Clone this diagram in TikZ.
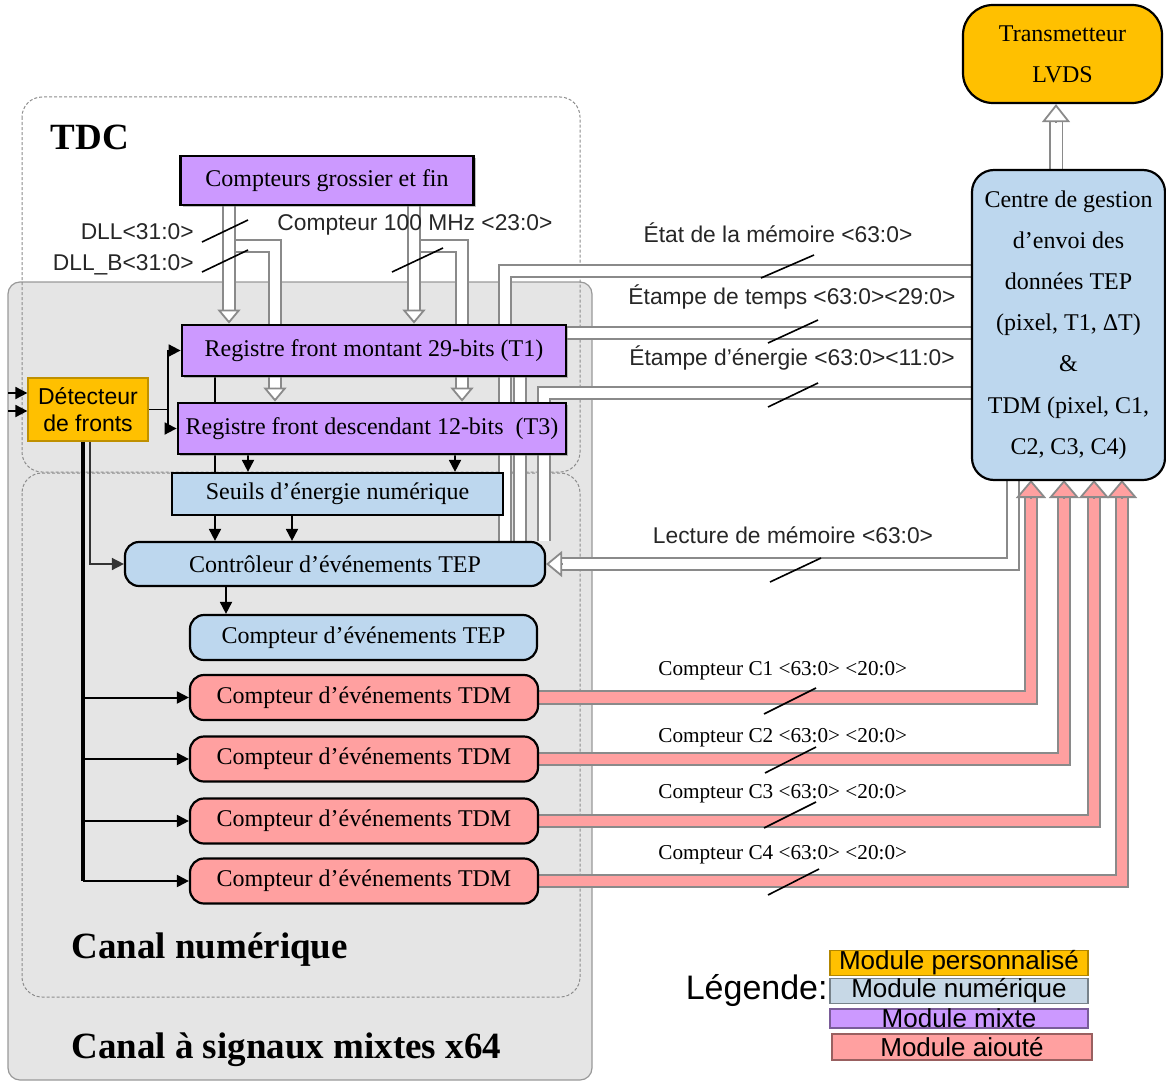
\documentclass[tikz,border=0pt]{standalone}
\usepackage{fontspec}
\setmainfont{Liberation Serif}
\setsansfont{Liberation Sans}
\usepackage{xcolor}
\usetikzlibrary{arrows.meta, positioning, shadows}

\definecolor{violetmod}{HTML}{CC99FF}
\definecolor{bleumod}{HTML}{BDD7EE}
\definecolor{rosemod}{HTML}{FFA0A0}
\definecolor{orangemod}{HTML}{FFC000}
\definecolor{grismod}{HTML}{E5E5E5}
\definecolor{busgris}{HTML}{8A8A8A}
\definecolor{legbleu}{HTML}{C7D8E6}

\pgfdeclarelayer{fond}
\pgfdeclarelayer{liens}
\pgfsetlayers{fond,liens,main}

\begin{document}
\begin{tikzpicture}[x=0.5pt, y=-0.5pt, >={Triangle[length=6pt,width=6pt]}]
    \tikzstyle{boite}=[rectangle, draw=black, line width=1.1pt, inner sep=0pt, font=\fontsize{12}{14}\selectfont]
    \tikzstyle{mixte}=[boite, fill=violetmod, line width=1.4pt, drop shadow={shadow xshift=1.2pt, shadow yshift=-1.2pt, opacity=.5}]
    \tikzstyle{numerique}=[boite, fill=bleumod]
    \tikzstyle{numrond}=[numerique, rounded corners=7pt]
    \tikzstyle{ajoute}=[boite, fill=rosemod, rounded corners=7pt, minimum width=174pt, minimum height=22.5pt]
    \tikzstyle{perso}=[rectangle, fill=orangemod, draw=orangemod!75!black, line width=0.6pt, inner sep=0pt, align=center]
    \tikzstyle{bus}=[draw=busgris, line width=0.9pt, double=white, double distance=4.8pt]
    \tikzstyle{bustete}=[draw=busgris, line width=0.9pt, -{Triangle[width=11.5pt,length=7pt,fill=white]}]
    \tikzstyle{busrose}=[draw=busgris, line width=0.9pt, double=rosemod, double distance=5.4pt]
    \tikzstyle{busrosetete}=[draw=busgris, line width=0.9pt, -{Triangle[width=15pt,length=9pt,fill=rosemod]}]
    \tikzstyle{etiq}=[font=\sffamily\fontsize{11.4}{13}\selectfont, text=black!85, inner sep=0pt]
    \tikzstyle{etiqc}=[font=\fontsize{10.6}{12}\selectfont, inner sep=0pt, anchor=west]
    \tikzstyle{barre}=[line width=0.8pt]
    \tikzstyle{titre}=[font=\bfseries\fontsize{18.5}{22}\selectfont, inner sep=0pt]
    \tikzstyle{signal}=[->, line width=0.9pt]
    \tikzstyle{legende}=[rectangle, inner sep=0pt, line width=0.6pt, font=\sffamily\fontsize{13}{15}\selectfont]

    \useasboundingbox (0,0) rectangle (1166,1081);

    % blocs du canal
    \node[mixte, minimum width=146.5pt, minimum height=24.5pt] (cgf) at (327,180.5) {Compteurs grossier et fin};
    \node[mixte, minimum width=192pt, minimum height=25.5pt] (t1) at (374,350.5) {Registre front montant 29-bits (T1)};
    \node[mixte, minimum width=194pt, minimum height=25.5pt] (t3) at (372,428.5) {Registre front descendant 12-bits\ \ (T3)};
    \node[perso, minimum width=60pt, minimum height=31.5pt, font=\sffamily\fontsize{11.5}{13.5}\selectfont] (det) at (88,409.5) {Détecteur\\de fronts};
    \node[numerique, minimum width=165.5pt, minimum height=21pt] (seuils) at (337.5,494) {Seuils d’énergie numérique};
    \node[numrond, minimum width=210pt, minimum height=22pt] (ctrl) at (335,564) {Contrôleur d’événements TEP};
    \node[numrond, minimum width=173.5pt, minimum height=22.5pt] (ctep) at (363.5,637.5) {Compteur d’événements TEP};
    \foreach \i/\y in {1/697.5, 2/759, 3/821, 4/881}{
        \node[ajoute] (tdm\i) at (364,\y) {Compteur d’événements TDM};
    }

    % blocs hors canal
    \node[numrond, rounded corners=11pt, minimum width=96.5pt, minimum height=155pt, align=center, font=\fontsize{12}{20.6}\selectfont] (centre) at (1068.5,325)
        {Centre de gestion\\d’envoi des\\données TEP\\(pixel, T1, ΔT)\\\&\\TDM (pixel, C1,\\C2, C3, C4)};
    \node[boite, fill=orangemod, rounded corners=15pt, minimum width=99.5pt, minimum height=49pt, align=center, font=\fontsize{12}{20.5}\selectfont] (lvds) at (1062.5,54) {Transmetteur\\LVDS};

    \node[titre] (ttdc) at (90,137) {TDC};
    \node[titre, anchor=west] (tnum) at (71,950) {Canal numérique};
    \node[titre, anchor=west] (tmix) at (71,1050) {Canal à signaux mixtes x64};

    % colonnes et coudes des bus
    \coordinate (bA) at (229,0);
    \coordinate (bC) at (414,0);
    \coordinate (coudeB) at (275,246);
    \coordinate (coudeD) at (462,246);
    \coordinate (coudeEtat) at (505,271);
    \coordinate (coudeTemps) at (520,333);
    \coordinate (coudeEnergie) at (544,393);
    \coordinate (coudeLect) at (1013,0);
    \coordinate (lien) at (1056,0);
    \coordinate (pA) at (t1.north -| bA);
    \coordinate (pB) at (t3.north -| coudeB);
    \coordinate (pC) at (t1.north -| bC);
    \coordinate (pD) at (t3.north -| coudeD);
    \coordinate (pL) at (lvds.south -| lien);
    \foreach \i/\x in {1/1031, 2/1064, 3/1094, 4/1122}{
        \coordinate (r\i) at (\x,480);
    }
    \coordinate (e1) at (8,393);
    \coordinate (e2) at (8,411);
    \coordinate (fourche) at (168,0);
    \coordinate (tronc) at (83,0);
    \coordinate (fil) at (90,0);
    \coordinate (v1) at (215,0);
    \coordinate (v2) at (248,0);
    \coordinate (v3) at (455,0);
    \coordinate (v4) at (292,0);
    \coordinate (v5) at (226,0);

    \begin{pgfonlayer}{fond}
        \draw[fill=grismod, draw=black!40, line width=0.6pt, rounded corners=6pt] (8,282) rectangle (592,1080);
        \draw[draw=black!45, line width=0.5pt, dash pattern=on 1.5pt off 1pt, rounded corners=10pt] (22,97) rectangle (580,472);
        \draw[draw=black!45, line width=0.5pt, dash pattern=on 1.5pt off 1pt, rounded corners=10pt] (22,473) rectangle (580,997);
    \end{pgfonlayer}

    \begin{pgfonlayer}{liens}
        % bus du TDC
        \draw[bus, shorten >=6pt] (cgf.south -| bA) |- (coudeB) -- (pB);
        \draw[bustete] ([yshift=7pt]pB) -- (pB);
        \draw[bus, shorten >=6pt] (cgf.south -| bA) -- (pA);
        \draw[bustete] ([yshift=7pt]pA) -- (pA);
        \draw[bus, shorten >=6pt] (cgf.south -| bC) |- (coudeD) -- (pD);
        \draw[bustete] ([yshift=7pt]pD) -- (pD);
        \draw[bus, shorten >=6pt] (cgf.south -| bC) -- (pC);
        \draw[bustete] ([yshift=7pt]pC) -- (pC);

        % bus vers le centre de gestion
        \draw[bus] (centre.west |- coudeEtat) -- (coudeEtat) -- (ctrl.north -| coudeEtat);
        \draw[bus] (centre.west |- coudeTemps) -- (coudeTemps) -- (ctrl.north -| coudeTemps);
        \draw[bus] (centre.west |- coudeEnergie) -- (coudeEnergie) -- (ctrl.north -| coudeEnergie);
        \draw[bus, shorten >=6pt] (centre.south -| coudeLect) |- (ctrl.east);
        \draw[bustete, -{Triangle[width=13pt,length=8pt,fill=white]}] ([xshift=8pt]ctrl.east) -- (ctrl.east);
        \draw[bus, double distance=5.5pt, shorten >=8pt] (centre.north -| lien) -- (pL);
        \draw[bustete, -{Triangle[width=14pt,length=9pt,fill=white]}] ([yshift=-9pt]pL) -- (pL);

        % compteurs TDM
        \foreach \i in {1,2,3,4}{
            \draw[busrose, shorten >=7pt] (tdm\i.east) -| (r\i);
            \draw[busrosetete] ([yshift=-9pt]r\i) -- (r\i);
        }

        % signaux
        \draw[signal] (e1) -- (e1 -| det.west);
        \draw[signal] (e2) -- (e2 -| det.west);
        \draw[signal] (det.east) -- (det.east -| fourche) |- (t1.west);
        \draw[signal] (det.east -| fourche) |- (t3.west);
        \draw[line width=1.6pt] (det.south -| tronc) -- (tdm4.west -| tronc);
        \foreach \i in {1,2,3,4}{
            \draw[signal, line width=1pt] (tdm\i.west -| tronc) -- (tdm\i.west);
        }
        \draw[signal, line width=0.8pt, draw=black!80] (det.south -| fil) |- (ctrl.west);
        \draw[signal] (t1.south -| v1) -- (ctrl.north -| v1);
        \draw[signal] (t3.south -| v2) -- (seuils.north -| v2);
        \draw[signal] (t3.south -| v3) -- (seuils.north -| v3);
        \draw[signal] (seuils.south -| v4) -- (ctrl.north -| v4);
        \draw[signal] (ctrl.south -| v5) -- (ctep.north -| v5);
    \end{pgfonlayer}

    % etiquettes des bus
    \node[etiq, anchor=east] (lbdll) at (194,232) {DLL<31:0>};
    \node[etiq, anchor=east] (lbdllb) at (194,265) {DLL\_B<31:0>};
    \node[etiq] (lbcpt) at (415,225) {Compteur 100 MHz <23:0>};
    \node[etiq] (lbetat) at (778,233) {État de la mémoire <63:0>};
    \node[etiq] (lbtemps) at (792,297) {Étampe de temps <63:0><29:0>};
    \node[etiq] (lbener) at (792,358) {Étampe d'énergie <63:0><11:0>};
    \node[etiq] (lblect) at (793,535) {Lecture de mémoire <63:0>};
    \foreach \i/\y in {1/671, 2/738, 3/794, 4/855}{
        \node[etiqc] (lbc\i) at (658,\y) {Compteur C\i\ <63:0> <20:0>};
    }

    % largeur des bus
    \draw[barre] (202,242) -- (248,220);
    \draw[barre] (202,272) -- (248,250);
    \draw[barre] (392,272) -- (443,248);
    \draw[barre] (761,278) -- (814,255);
    \draw[barre] (768,343) -- (818,320);
    \draw[barre] (768,407) -- (818,383);
    \draw[barre] (770,582) -- (821,558);
    \draw[barre] (764,714) -- (816,688);
    \draw[barre] (765,773) -- (816,747);
    \draw[barre] (764,828) -- (816,802);
    \draw[barre] (768,895) -- (819,869);

    % legende
    \node[font=\sffamily\fontsize{17}{20}\selectfont, anchor=east, inner sep=0pt] (leg) at (828,990) {Légende:};
    \node[legende, fill=orangemod, draw=orangemod!70!black, minimum width=129pt, minimum height=10pt] (lperso) at (959,963) {Module personnalisé};
    \node[legende, fill=legbleu, draw=legbleu!60!black, minimum width=129pt, minimum height=12pt] (lnum) at (959,991) {Module numérique};
    \node[legende, fill=violetmod, draw=violetmod!60!black, minimum width=129pt, minimum height=9.5pt] (lmix) at (959,1018.5) {Module mixte};
    \node[legende, fill=rosemod, draw=rosemod!60!black, minimum width=130pt, minimum height=13pt] (lajout) at (962,1047) {Module aiouté};
\end{tikzpicture}
\end{document}
